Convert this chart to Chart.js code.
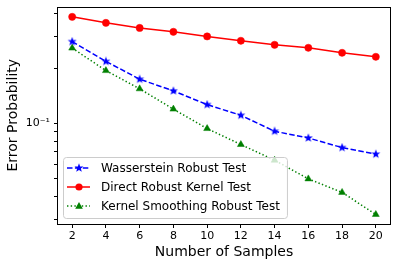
<!DOCTYPE html>
<html>
<head>
<meta charset="utf-8">
<script src="https://cdn.jsdelivr.net/npm/chart.js@4/dist/chart.umd.min.js"></script>
<style>
  html, body { margin: 0; padding: 0; background: #fff; }
  #wrap { width: 398px; height: 266px; }
</style>
</head>
<body>
<div id="wrap"><canvas id="myChart" width="398" height="266"></canvas></div>
<script>
// Daten
const samples = [2, 4, 6, 8, 10, 12, 14, 16, 18, 20];
const wasserstein = [0.281, 0.219, 0.175, 0.151, 0.127, 0.111, 0.0908, 0.0834, 0.0739, 0.0680];
const directKernel = [0.384, 0.356, 0.334, 0.318, 0.300, 0.284, 0.270, 0.260, 0.244, 0.232];
const kernelSmoothing = [0.259, 0.195, 0.155, 0.120, 0.0939, 0.0768, 0.0630, 0.0498, 0.0420, 0.0318];
const seriesNames = ['Wasserstein Robust Test', 'Direct Robust Kernel Test', 'Kernel Smoothing Robust Test'];
const yTicks = [0.03, 0.04, 0.05, 0.06, 0.07, 0.08, 0.09, 0.1, 0.2, 0.3, 0.4];

const font = 'DejaVu Sans';

// Stern-Marker wie bei matplotlib '*'
function makeStar(size, color) {
    const c = document.createElement('canvas');
    c.width = size; c.height = size;
    const g = c.getContext('2d');
    const cx = size / 2, cy = size / 2, ro = size / 2 - 0.3, ri = ro * 0.42;
    g.beginPath();
    for (let i = 0; i < 10; i++) {
        const r = i % 2 === 0 ? ro : ri;
        const a = -Math.PI / 2 + i * Math.PI / 5;
        g.lineTo(cx + r * Math.cos(a), cy + r * Math.sin(a));
    }
    g.closePath();
    g.fillStyle = color;
    g.fill();
    return c;
}
const starImg = makeStar(10, 'blue');

function points(ys) {
    return samples.map((x, i) => ({ x: x, y: ys[i] }));
}

const datasets = [
    {
        label: seriesNames[0], data: points(wasserstein),
        borderColor: 'blue', backgroundColor: 'blue', borderWidth: 1.5,
        borderDash: [5.5, 2.4], pointStyle: starImg, pointRadius: 5
    },
    {
        label: seriesNames[1], data: points(directKernel),
        borderColor: 'red', backgroundColor: 'red', borderWidth: 1.5,
        pointStyle: 'circle', pointRadius: 3.6, pointBorderWidth: 0.5
    },
    {
        label: seriesNames[2], data: points(kernelSmoothing),
        borderColor: 'green', backgroundColor: 'green', borderWidth: 1.5,
        borderDash: [1.4, 2.3], pointStyle: 'triangle', pointRadius: 4, pointBorderWidth: 0.5
    }
];

// Rahmen um die Zeichenfläche + Legende innerhalb
const boxPlugin = {
    id: 'box',
    afterDatasetsDraw(chart) {
        const ctx = chart.ctx;
        const a = chart.chartArea;
        ctx.save();
        ctx.strokeStyle = '#000';
        ctx.lineWidth = 1;
        ctx.strokeRect(Math.round(a.left) + 0.5, Math.round(a.top) + 0.5,
            Math.round(a.right - a.left) - 1, Math.round(a.bottom - a.top) - 1);

        // Legende
        ctx.font = '12px "' + font + '"';
        let maxW = 0;
        seriesNames.forEach(n => { maxW = Math.max(maxW, ctx.measureText(n).width); });
        const bx = a.left + 6, by = a.bottom - 67, rowH = 19;
        const bw = 38 + maxW + 7, bh = 61;
        ctx.beginPath();
        ctx.roundRect(bx + 0.5, by + 0.5, bw, bh, 3);
        ctx.fillStyle = 'rgba(255,255,255,0.8)';
        ctx.fill();
        ctx.strokeStyle = '#cccccc';
        ctx.stroke();
        datasets.forEach((d, i) => {
            const y = by + 11 + i * rowH;
            ctx.beginPath();
            ctx.setLineDash(d.borderDash || []);
            ctx.strokeStyle = d.borderColor;
            ctx.lineWidth = 1.5;
            ctx.moveTo(bx + 4, y);
            ctx.lineTo(bx + 27, y);
            ctx.stroke();
            ctx.setLineDash([]);
            const mx = bx + 16;
            ctx.fillStyle = d.backgroundColor;
            if (i === 0) {
                ctx.drawImage(starImg, mx - 5, y - 5);
            } else if (i === 1) {
                ctx.beginPath();
                ctx.arc(mx, y, 3.6, 0, Math.PI * 2);
                ctx.fill();
            } else {
                const r = 4;
                ctx.beginPath();
                ctx.moveTo(mx, y - r);
                ctx.lineTo(mx + r * 0.95, y + r * 0.7);
                ctx.lineTo(mx - r * 0.95, y + r * 0.7);
                ctx.closePath();
                ctx.fill();
            }
            ctx.fillStyle = '#000';
            ctx.textBaseline = 'middle';
            ctx.fillText(d.label, bx + 38, y + 0.5);
        });
        ctx.restore();
    }
};

const config = {
    type: 'line',
    data: { datasets: datasets },
    options: {
        responsive: false,
        animation: false,
        layout: { padding: { top: 6, right: 7, left: 0, bottom: 0 } },
        plugins: { legend: { display: false }, tooltip: { enabled: false } },
        scales: {
            x: {
                type: 'linear', min: 1.1, max: 20.9,
                afterBuildTicks: s => { s.ticks = samples.map(v => ({ value: v })); },
                afterFit: s => { s.height = 42; s.paddingLeft = 0; s.paddingRight = 0; },
                grid: { drawOnChartArea: false, tickLength: 4, color: '#000' },
                border: { display: false },
                ticks: { color: '#000', font: { family: font, size: 11 }, padding: 2, maxRotation: 0 },
                title: {
                    display: true, text: 'Number of Samples', color: '#000',
                    font: { family: font, size: 14 }, padding: { top: 0, bottom: 5 }
                }
            },
            y: {
                type: 'logarithmic', min: 0.0282, max: 0.4375,
                afterBuildTicks: s => { s.ticks = yTicks.map(v => ({ value: v })); },
                afterFit: s => { s.width = 57; s.paddingTop = 0; s.paddingBottom = 0; },
                grid: { drawOnChartArea: false, tickLength: 3, color: '#000' },
                border: { display: false },
                ticks: {
                    color: '#000', font: { family: font, size: 11 }, padding: 4,
                    callback: v => (Math.abs(v - 0.1) < 1e-9 ? '10\u207B\u00B9' : '')
                },
                title: {
                    display: true, text: 'Error Probability', color: '#000',
                    font: { family: font, size: 14 }, padding: { top: 5, bottom: 0 }
                }
            }
        }
    },
    plugins: [boxPlugin]
};

const chart = new Chart(document.getElementById('myChart'), config);
</script>
</body>
</html>
